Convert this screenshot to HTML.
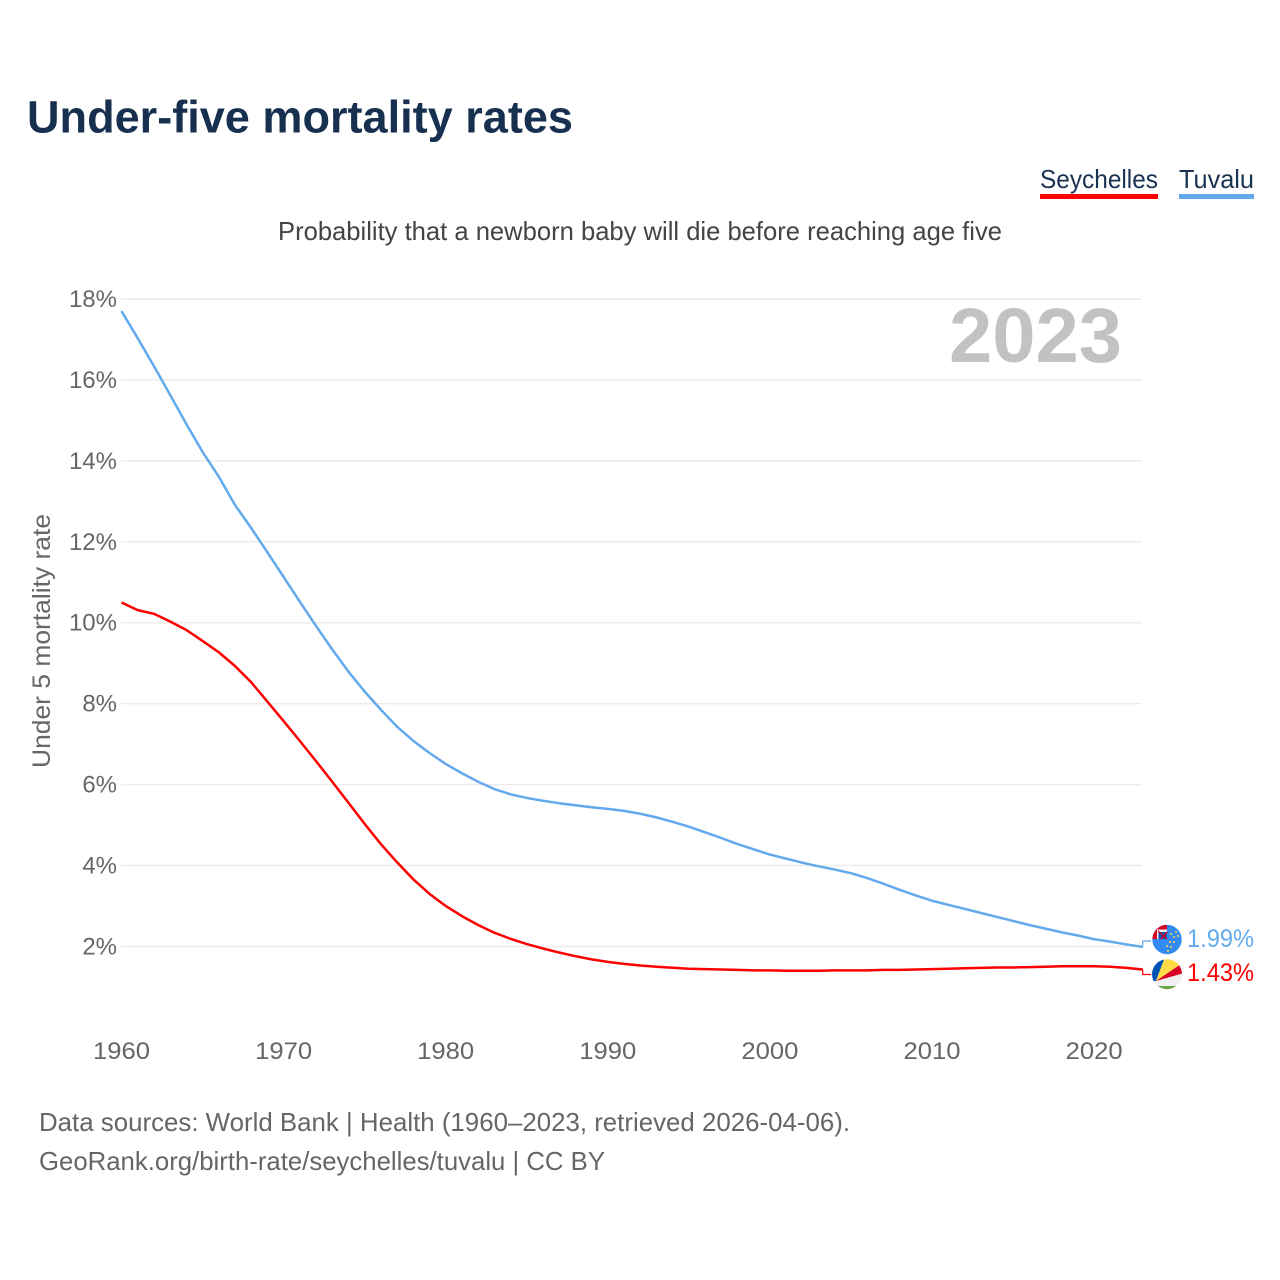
<!DOCTYPE html>
<html lang="en">
<head>
<meta charset="utf-8">
<title>Under-five mortality rates</title>
<style>
html,body{margin:0;padding:0;background:#fff;}
svg{display:block;font-family:"Liberation Sans",sans-serif;}
</style>
</head>
<body>
<svg id="chart" xmlns="http://www.w3.org/2000/svg" width="1280" height="1280" viewBox="0 0 1280 1280">
  <rect width="1280" height="1280" fill="#fff"/>
  <text x="27" y="132.5" font-size="45" font-weight="700" fill="#17304f" textLength="546" lengthAdjust="spacingAndGlyphs">Under-five mortality rates</text>

  <text x="1040" y="188" font-size="26" fill="#1a3353" textLength="118" lengthAdjust="spacingAndGlyphs">Seychelles</text>
  <rect x="1040" y="194" width="118" height="5" fill="#ff0000"/>
  <text x="1179" y="188" font-size="26" fill="#1a3353" textLength="75" lengthAdjust="spacingAndGlyphs">Tuvalu</text>
  <rect x="1179" y="194" width="75" height="5" fill="#63a9ee"/>

  <text x="278" y="240" font-size="26" fill="#444" textLength="724" lengthAdjust="spacingAndGlyphs">Probability that a newborn baby will die before reaching age five</text>

  <g id="grid"></g>
  <g id="yticks"></g>
  <g id="xticks"></g>

  <text transform="translate(50,641) rotate(-90)" text-anchor="middle" font-size="25" fill="#666" textLength="254" lengthAdjust="spacingAndGlyphs">Under 5 mortality rate</text>
  <text x="949" y="362" font-size="77" font-weight="700" fill="#c2c2c2" textLength="173" lengthAdjust="spacingAndGlyphs">2023</text>

  <g id="series"></g>

  <defs>
    <clipPath id="tuvalu-clip"><circle cx="1167" cy="939.5" r="14.7"/></clipPath>
    <clipPath id="seychelles-clip"><circle cx="1167" cy="974.2" r="15"/></clipPath>
  </defs>
  <g clip-path="url(#tuvalu-clip)">
    <rect x="1152" y="924" width="30" height="31" fill="#338af3"/>
    <rect x="1152" y="924" width="15" height="15" fill="#f0f0f0"/>
    <rect x="1152" y="925" width="15" height="4.5" fill="#d80027"/>
    <rect x="1152" y="925" width="5" height="14" fill="#d80027"/>
    <rect x="1158.5" y="932" width="8.5" height="7" fill="#0052b4"/>
    <path d="M1158 931L1167 939M1167 932L1161 939" stroke="#d80027" stroke-width="1.5" fill="none"/>
    <g fill="#ffda44">
      <circle cx="1176" cy="932" r="1"/><circle cx="1178" cy="936" r="1"/><circle cx="1174" cy="937" r="1"/>
      <circle cx="1171" cy="934" r="1"/><circle cx="1174" cy="942" r="1"/><circle cx="1170" cy="942" r="1"/>
      <circle cx="1171" cy="947" r="1"/><circle cx="1167" cy="946" r="1"/><circle cx="1168" cy="951" r="1"/>
    </g>
  </g>
  <g clip-path="url(#seychelles-clip)">
    <rect x="1150" y="957" width="34" height="35" fill="#f0f0f0"/>
    <polygon points="1156,981 1150,981 1150,957 1165,957" fill="#0052b4"/>
    <polygon points="1156,981 1165,957 1184,957 1184,962" fill="#ffda44"/>
    <polygon points="1156,981 1184,962 1184,973" fill="#d80027"/>
    <polygon points="1150,986 1184,986 1184,992 1150,992" fill="#6da544"/>
  </g>

  <text x="39" y="1131" font-size="26" fill="#666" textLength="811" lengthAdjust="spacingAndGlyphs">Data sources: World Bank | Health (1960–2023, retrieved 2026-04-06).</text>
  <text x="39" y="1170" font-size="26" fill="#666" textLength="566" lengthAdjust="spacingAndGlyphs">GeoRank.org/birth-rate/seychelles/tuvalu | CC BY</text>
</svg>
<script>
const years = [1960,1961,1962,1963,1964,1965,1966,1967,1968,1969,1970,1971,1972,1973,1974,1975,1976,1977,1978,1979,1980,1981,1982,1983,1984,1985,1986,1987,1988,1989,1990,1991,1992,1993,1994,1995,1996,1997,1998,1999,2000,2001,2002,2003,2004,2005,2006,2007,2008,2009,2010,2011,2012,2013,2014,2015,2016,2017,2018,2019,2020,2021,2022,2023];
const tuvaluValues = [17.70,17.03,16.34,15.63,14.91,14.22,13.61,12.91,12.34,11.74,11.13,10.52,9.92,9.34,8.79,8.30,7.85,7.43,7.08,6.78,6.51,6.28,6.07,5.89,5.76,5.67,5.60,5.54,5.49,5.44,5.40,5.35,5.28,5.19,5.08,4.96,4.82,4.68,4.53,4.40,4.27,4.17,4.07,3.98,3.90,3.81,3.69,3.55,3.40,3.26,3.13,3.03,2.93,2.83,2.73,2.63,2.53,2.44,2.35,2.27,2.18,2.12,2.05,1.99];
const seychellesValues = [10.50,10.31,10.22,10.03,9.82,9.55,9.27,8.93,8.53,8.05,7.57,7.08,6.58,6.07,5.55,5.03,4.53,4.08,3.66,3.30,3.00,2.75,2.53,2.34,2.19,2.06,1.95,1.85,1.76,1.68,1.62,1.57,1.53,1.50,1.475,1.45,1.44,1.43,1.42,1.41,1.41,1.40,1.40,1.40,1.41,1.41,1.41,1.42,1.42,1.43,1.44,1.45,1.46,1.47,1.48,1.48,1.49,1.50,1.51,1.51,1.51,1.50,1.47,1.43];
const yTickValues = [2,4,6,8,10,12,14,16,18];
const xTickValues = [1960,1970,1980,1990,2000,2010,2020];

const SVGNS = 'http://www.w3.org/2000/svg';
const xScale = function (year) { return 121.5 + (year - 1960) * 16.21; };
const yScale = function (value) { return 1027.4 - value * 40.47; };

function make(tag, parent) {
  const el = document.createElementNS(SVGNS, tag);
  parent.appendChild(el);
  return el;
}

const gridGroup = document.getElementById('grid');
const yGroup = document.getElementById('yticks');
const xGroup = document.getElementById('xticks');
const seriesGroup = document.getElementById('series');

yTickValues.forEach(function (v) {
  const line = make('line', gridGroup);
  
  
  line.setAttribute('x1', 121);
  line.setAttribute('x2', 1142);
  line.setAttribute('y1', yScale(v));
  line.setAttribute('y2', yScale(v));
  line.setAttribute('stroke', '#ececec');
  line.setAttribute('stroke-width', '1.5');

  const label = make('text', yGroup);
  
  
  label.setAttribute('x', 117);
  label.setAttribute('y', yScale(v) + 8);
  label.setAttribute('text-anchor', 'end');
  label.setAttribute('font-size', '24');
  label.setAttribute('fill', '#666');
  label.textContent = v + '%';
});

xTickValues.forEach(function (year) {
  const label = make('text', xGroup);
  
  
  label.setAttribute('x', xScale(year));
  label.setAttribute('y', 1059);
  label.setAttribute('text-anchor', 'middle');
  label.setAttribute('font-size', '24.5');
  label.setAttribute('fill', '#666');
  label.setAttribute('textLength', '57');
  label.setAttribute('lengthAdjust', 'spacingAndGlyphs');
  label.textContent = String(year);
});

function linePath(values) {
  return values.map(function (v, i) {
    return (i ? 'L' : 'M') + xScale(years[i]).toFixed(2) + ' ' + yScale(v).toFixed(2);
  }).join('');
}

function drawSeries(values, color, slug, leaderY, labelY) {
  const path = make('path', seriesGroup);
  
  
  path.setAttribute('d', linePath(values));
  path.setAttribute('fill', 'none');
  path.setAttribute('stroke', color);
  path.setAttribute('stroke-width', '2.5');
  path.setAttribute('stroke-linejoin', 'round');

  const last = values[values.length - 1];
  const endX = xScale(years[years.length - 1]);
  const leader = make('path', seriesGroup);
  
  
  leader.setAttribute('d', 'M' + endX + ' ' + yScale(last) + 'L' + endX + ' ' + leaderY + 'L1151 ' + leaderY);
  leader.setAttribute('fill', 'none');
  leader.setAttribute('stroke', color);
  leader.setAttribute('stroke-width', '1.2');

  const label = make('text', seriesGroup);
  
  
  label.setAttribute('x', 1187);
  label.setAttribute('y', labelY);
  label.setAttribute('font-size', '25');
  label.setAttribute('fill', color);
  label.setAttribute('textLength', '67');
  label.setAttribute('lengthAdjust', 'spacingAndGlyphs');
  label.textContent = last.toFixed(2) + '%';
}

drawSeries(tuvaluValues, '#63a9ee', 'tuvalu', 941, 947);
drawSeries(seychellesValues, '#ff0000', 'seychelles', 974.5, 981);
</script>
</body>
</html>
